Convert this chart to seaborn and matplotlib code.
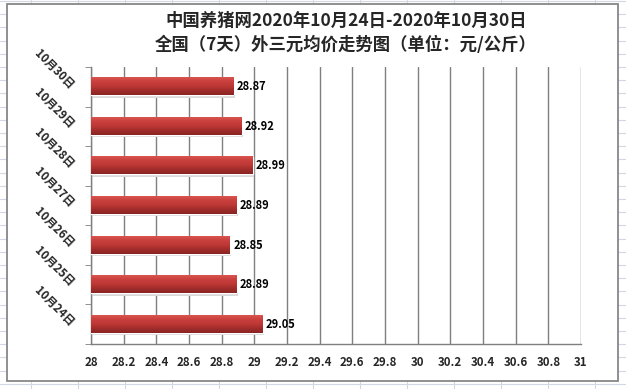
import matplotlib
matplotlib.use("Agg")
import matplotlib.pyplot as plt
from matplotlib.colors import LinearSegmentedColormap
from matplotlib.lines import Line2D
from matplotlib.patches import Rectangle
import numpy as np
import pandas as pd
import seaborn as sns

# data (top to bottom)
dates = ["10月30日", "10月29日", "10月28日", "10月27日", "10月26日", "10月25日", "10月24日"]
prices = [28.87, 28.92, 28.99, 28.89, 28.85, 28.89, 29.05]
x_ticks = [28, 28.2, 28.4, 28.6, 28.8, 29, 29.2, 29.4, 29.6, 29.8,
           30, 30.2, 30.4, 30.6, 30.8, 31]
x_tick_labels = ["28", "28.2", "28.4", "28.6", "28.8", "29", "29.2", "29.4", "29.6",
                 "29.8", "30", "30.2", "30.4", "30.6", "30.8", "31"]
title = "中国养猪网2020年10月24日-2020年10月30日\n全国（7天）外三元均价走势图（单位：元/公斤）"

df = pd.DataFrame({"date": dates, "price": prices})

sns.set_style("white")
plt.rcParams["font.family"] = ["Noto Sans CJK SC", "DejaVu Sans"]
plt.rcParams["font.weight"] = "bold"

W, H = 626, 389
fig = plt.figure(figsize=(W / 100, H / 100), dpi=100)
fig.patch.set_facecolor("white")

# spreadsheet grid behind the chart object
grid_c = "#d0d7e5"
for yy in np.arange(1, H, 13.2):
    fig.add_artist(Line2D([0, 1], [1 - yy / H] * 2, transform=fig.transFigure,
                          color=grid_c, lw=0.8, zorder=-3))
for xx in np.arange(31, W, 47):
    fig.add_artist(Line2D([xx / W] * 2, [0, 1], transform=fig.transFigure,
                          color=grid_c, lw=0.8, zorder=-3))
fig.add_artist(Rectangle((7 / W, 1 - 381 / H), (618 - 7) / W, (381 - 4) / H,
                         transform=fig.transFigure, facecolor="white",
                         edgecolor="#878787", lw=1.3, zorder=-2))

ax = fig.add_axes([91 / W, 1 - 344 / H, (581 - 91) / W, (344 - 67) / H])
ax.set_facecolor("none")

sns.barplot(data=df, x="price", y="date", orient="h", order=dates,
            color="#c0393a", width=0.43, ax=ax, zorder=3)

XMIN, XMAX = 28, 31
ax.set_xlim(XMIN, XMAX)
ylim = ax.get_ylim()

# vertical gradient on each bar, like the Excel bevel fill
cmap = LinearSegmentedColormap.from_list(
    "bar", ["#d9544f", "#c9403d", "#bd3835", "#a02c2a", "#8a2524"])
grad = np.linspace(0, 1, 64).reshape(-1, 1)
for bar in list(ax.patches):
    y0, h = bar.get_y(), bar.get_height()
    x1 = bar.get_x() + bar.get_width()
    # faint shadow under the bar
    ax.add_patch(Rectangle((XMIN, y0 + h), x1 - XMIN + 0.01, 0.06,
                           facecolor="#dadada", edgecolor="none", zorder=2))
    ax.imshow(grad, cmap=cmap, aspect="auto", extent=[XMIN, x1, y0 + h, y0],
              origin="upper", zorder=4)
ax.set_xlim(XMIN, XMAX)
ax.set_ylim(ylim)

for i, v in enumerate(prices):
    ax.text(v + 0.02, i, f"{v:.2f}", ha="left", va="center", fontsize=8,
            fontweight="bold", color="black", zorder=5)

# gridlines and axes
ax.set_xticks(x_ticks)
ax.set_xticklabels(x_tick_labels, fontsize=8.3, fontweight="bold")
ax.xaxis.grid(True, color="#7f7f7f", lw=1.0, zorder=1)
ax.set_axisbelow(True)
ax.tick_params(axis="x", length=0, pad=9)
for s in ["top", "right"]:
    ax.spines[s].set_visible(False)
for s in ["left", "bottom"]:
    ax.spines[s].set_color("#7f7f7f")
    ax.spines[s].set_linewidth(1.0)

ax.set_yticks(range(len(dates)))
ax.set_yticklabels(dates, fontsize=8.3, fontweight="bold", rotation=-45,
                   ha="right", va="center", rotation_mode="anchor")
ax.set_yticks(np.arange(-0.5, len(dates), 1), minor=True)
ax.tick_params(axis="y", which="major", length=0, pad=14)
ax.tick_params(axis="y", which="minor", length=4, color="#7f7f7f", left=True)
ax.set_xlabel("")
ax.set_ylabel("")

fig.text(346 / W, 1 - 33 / H, title, ha="center", va="center", fontsize=12.5,
         fontweight="bold", linespacing=1.45)

fig.savefig("out.png", dpi=100)
plt.close(fig)
